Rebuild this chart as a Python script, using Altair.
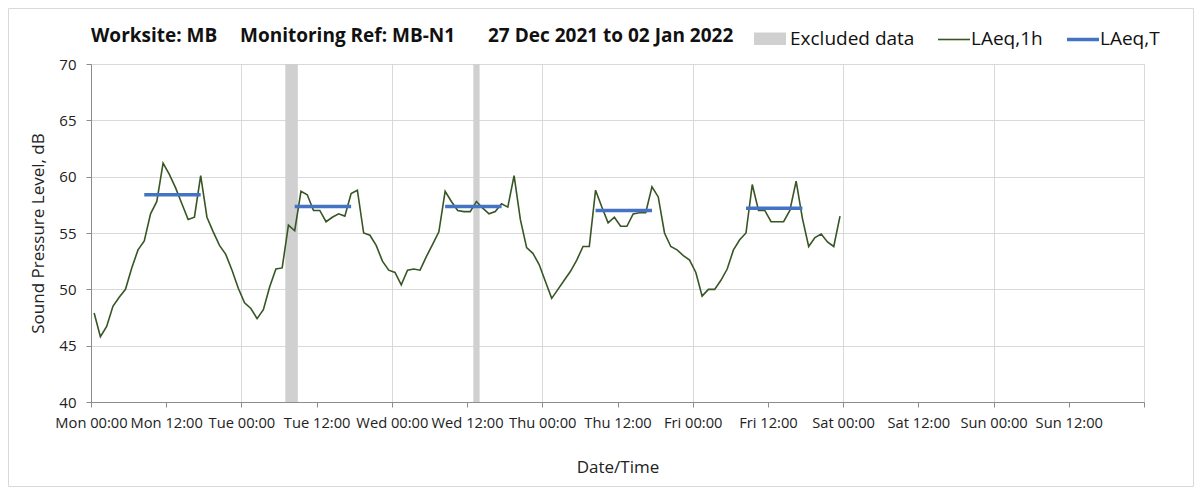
import altair as alt
import pandas as pd

FONT = "Open Sans"

# Hourly LAeq,1h values from Mon 27 Dec 2021 00:00 (one per hour)
LAEQ_1H = [
    47.9, 45.8, 46.7, 48.5, 49.3, 50.0, 51.9, 53.5, 54.3, 56.7, 57.8, 61.2,
    60.2, 59.0, 57.6, 56.2, 56.4, 60.1, 56.4, 55.1, 53.9, 53.1, 51.7, 50.1,
    48.8, 48.3, 47.4, 48.2, 50.2, 51.8, 51.9, 55.7, 55.2, 58.7, 58.4, 57.0,
    57.0, 56.0, 56.4, 56.7, 56.5, 58.5, 58.8, 55.0, 54.8, 53.9, 52.5, 51.7,
    51.5, 50.4, 51.7, 51.8, 51.7, 52.9, 54.0, 55.1, 58.7, 57.8, 57.0, 56.9,
    56.9, 57.8, 57.2, 56.7, 56.9, 57.6, 57.3, 60.1, 56.2, 53.7, 53.2, 52.2,
    50.7, 49.2, 50.0, 50.8, 51.6, 52.6, 53.8, 53.8, 58.8, 57.3, 55.9, 56.4,
    55.6, 55.6, 56.7, 56.8, 56.8, 59.1, 58.2, 55.0, 53.8, 53.5, 53.0, 52.6,
    51.5, 49.4, 50.0, 50.0, 50.8, 51.8, 53.5, 54.4, 55.0, 59.3, 57.0, 57.0,
    56.0, 56.0, 56.0, 57.0, 59.6, 56.3, 53.8, 54.6, 54.9, 54.2, 53.8, 56.5,
]
# hours since Mon 00:00 (mid-hour positions)
HOURS = [h + 0.5 for h in range(len(LAEQ_1H))]

# LAeq,T daytime periods (hours since Mon 00:00) and levels
LAT_START = [8.5, 32.5, 56.5, 80.5, 104.5]
LAT_END = [17.5, 41.5, 65.5, 89.5, 113.5]
LAT_VALUE = [58.4, 57.35, 57.35, 57.0, 57.2]

# Excluded data periods (hours since Mon 00:00)
EXCL_START = [31, 61]
EXCL_END = [33, 62]

TICK_HOURS = list(range(0, 169, 12))
DAY_NAMES = ["Mon", "Tue", "Wed", "Thu", "Fri", "Sat", "Sun"]
Y_TICKS = [40, 45, 50, 55, 60, 65, 70]

TITLE_PARTS = ["Worksite: MB", "Monitoring Ref: MB-N1", "27 Dec 2021 to 02 Jan 2022"]
LEGEND_LABELS = ["Excluded data", "LAeq,1h", "LAeq,T"]

GREEN = "#375623"
BLUE = "#4472C4"
GRAY = "#d0d0d0"

W, H = 1053, 338

line_df = pd.DataFrame({"h": HOURS, "v": LAEQ_1H})
lat_df = pd.DataFrame({"h": LAT_START, "h2": LAT_END, "v": LAT_VALUE})
excl_df = pd.DataFrame({"h": EXCL_START, "h2": EXCL_END})
one = pd.DataFrame({"a": [0]})

days_js = "[" + ",".join("'%s'" % d for d in DAY_NAMES) + "]"
label_expr = (
    "datum.value >= 168 ? '' : " + days_js +
    "[floor(datum.value/24)] + (datum.value % 24 == 0 ? ' 00:00' : ' 12:00')"
)

xscale = alt.Scale(domain=[0, 168], nice=False, zero=False)
yscale = alt.Scale(domain=[40, 70], nice=False, zero=False)

xaxis = alt.Axis(
    values=TICK_HOURS, labelExpr=label_expr, labelOverlap=False, labelFlush=False,
    labelFont=FONT, labelFontSize=14.7, labelColor="#222222", labelPadding=8,
    tickSize=5, tickColor="#8c8c8c", domainColor="#8c8c8c",
    grid=True, gridColor="#d9d9d9",
    gridOpacity=alt.ExprRef("datum.value % 24 == 0 ? 1 : 0"),
    title="Date/Time", titleFont=FONT, titleFontSize=17, titleFontWeight="normal",
    titleColor="#222222", titleBaseline="alphabetic", titleY=70,
)
yaxis = alt.Axis(
    values=Y_TICKS, labelFont=FONT, labelFontSize=15, labelColor="#222222",
    labelPadding=10, labelFlush=False, tickSize=5, tickColor="#8c8c8c",
    domainColor="#8c8c8c", grid=True, gridColor="#d9d9d9",
    title="Sound Pressure Level, dB", titleFont=FONT, titleFontSize=17,
    titleFontWeight="normal", titleColor="#222222",
    titleBaseline="alphabetic", titleX=-48,
)


def X(field):
    return alt.X(field, type="quantitative", scale=xscale, axis=xaxis)


def Y(field):
    return alt.Y(field, type="quantitative", scale=yscale, axis=yaxis)


border = alt.Chart(one).mark_rect(
    fillOpacity=0, stroke="#d9d9d9", strokeWidth=1
).encode(
    x=alt.value(-82.5), x2=alt.value(W + 49.5),
    y=alt.value(-55.5), y2=alt.value(H + 84.5),
)

bands = alt.Chart(excl_df).mark_rect(color=GRAY).encode(
    x=X("h"), x2="h2"
)

line = alt.Chart(line_df).mark_line(color=GREEN, strokeWidth=1.6).encode(
    x=X("h"), y=Y("v")
)

lat = alt.Chart(lat_df).mark_rule(color=BLUE, strokeWidth=3.5).encode(
    x=X("h"), x2="h2", y=Y("v")
)

title_x = [0, 149, 397]
titles = [
    alt.Chart(one).mark_text(
        text=t, font=FONT, fontSize=19, fontWeight="bold", color="#111111",
        align="left", baseline="alphabetic",
    ).encode(x=alt.value(tx), y=alt.value(-22))
    for t, tx in zip(TITLE_PARTS, title_x)
]

leg_rect = alt.Chart(one).mark_rect(color=GRAY).encode(
    x=alt.value(663), x2=alt.value(695), y=alt.value(-31.5), y2=alt.value(-19)
)
leg_green = alt.Chart(one).mark_rule(color=GREEN, strokeWidth=1.6).encode(
    x=alt.value(847), x2=alt.value(879), y=alt.value(-24.5)
)
leg_blue = alt.Chart(one).mark_rule(color=BLUE, strokeWidth=3.5).encode(
    x=alt.value(976), x2=alt.value(1008), y=alt.value(-24.5)
)
leg_x = [699, 880, 1009]
leg_texts = [
    alt.Chart(one).mark_text(
        text=t, font=FONT, fontSize=19, color="#111111",
        align="left", baseline="alphabetic",
    ).encode(x=alt.value(lx), y=alt.value(-19))
    for t, lx in zip(LEGEND_LABELS, leg_x)
]

chart = alt.layer(
    border, bands, line, lat, *titles, leg_rect, leg_green, leg_blue, *leg_texts
).properties(
    width=W, height=H,
    autosize=alt.AutoSizeParams(type="none"),
    padding={"left": 83, "top": 56, "right": 50, "bottom": 85},
).configure_view(
    stroke="#a6a6a6", strokeWidth=1
).configure(background="white")

chart.save("out.html", embed_options={"renderer": "svg", "actions": False})
